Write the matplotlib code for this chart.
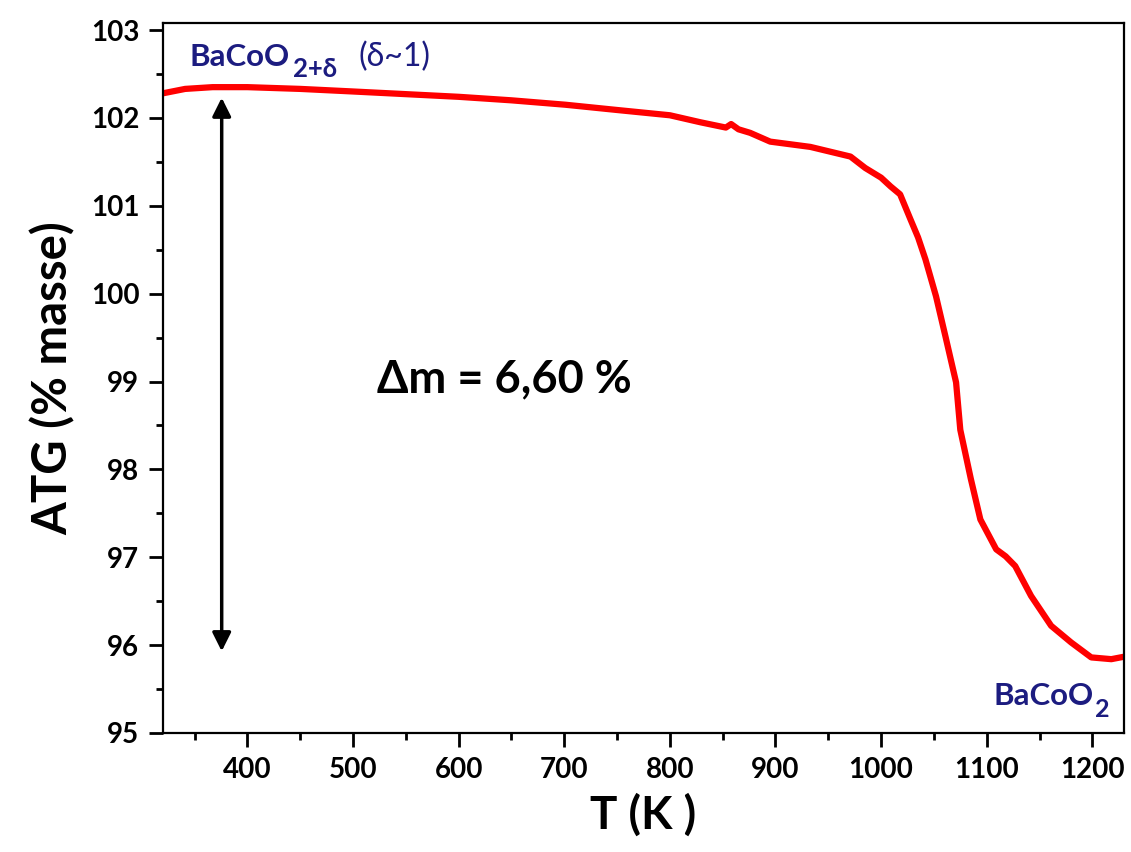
import matplotlib
matplotlib.use("Agg")
import matplotlib.pyplot as plt
from matplotlib.ticker import MultipleLocator

plt.rcParams["font.family"] = ["Lato", "DejaVu Sans"]

# TGA curve
temp_k = [320, 341, 367, 400, 450, 501, 600, 650, 701, 750, 800, 829, 853,
          858, 865, 876, 895, 933, 971, 985, 1000, 1009, 1018, 1028, 1035,
          1042, 1052, 1061, 1066, 1071, 1075, 1085, 1094, 1109, 1118, 1127,
          1142, 1161, 1180, 1199, 1218, 1231]
mass_pct = [102.28, 102.33, 102.35, 102.35, 102.33, 102.30, 102.24, 102.20,
            102.15, 102.09, 102.03, 101.95, 101.89, 101.93, 101.87, 101.83,
            101.73, 101.67, 101.56, 101.43, 101.32, 101.22, 101.13, 100.84,
            100.64, 100.39, 99.97, 99.51, 99.25, 98.99, 98.45, 97.89, 97.43,
            97.09, 97.01, 96.90, 96.56, 96.22, 96.03, 95.86, 95.84, 95.87]

arrow_t = 375.6
arrow_top = 102.23
arrow_bottom = 95.93

navy = "#1c1c80"

fig = plt.figure(figsize=(11.31, 8.52), dpi=100)
ax = fig.add_axes([0.1441, 0.1397, 0.8497, 0.8333])

ax.plot(temp_k, mass_pct, color="#ff0000", lw=4.5)

ax.annotate("", xy=(arrow_t, arrow_bottom), xytext=(arrow_t, arrow_top),
            arrowprops=dict(arrowstyle="<|-|>", color="black", lw=2.5,
                            mutation_scale=28, shrinkA=0, shrinkB=0))

# labels of the two phases (subscripts drawn as separate texts)
ax.text(345, 102.59, "BaCoO", color=navy, fontsize=22.5, fontweight="bold",
        va="baseline")
ax.text(443, 102.46, "2+δ", color=navy, fontsize=18.5, fontweight="bold",
        va="baseline")
ax.text(505, 102.59, "(δ~1)", color=navy, fontsize=23, va="baseline")
ax.text(1201, 95.32, "BaCoO", color=navy, fontsize=22.5, fontweight="bold",
        va="baseline", ha="right")
ax.text(1203, 95.18, "2", color=navy, fontsize=18, fontweight="bold",
        va="baseline")

ax.text(523, 98.875, "Δm = 6,60 %", fontsize=32.5, fontweight="bold",
        va="baseline")

ax.set_xlim(320, 1230)
ax.set_ylim(95, 103.08)
ax.xaxis.set_major_locator(MultipleLocator(100))
ax.xaxis.set_minor_locator(MultipleLocator(50))
ax.yaxis.set_major_locator(MultipleLocator(1))
ax.yaxis.set_minor_locator(MultipleLocator(0.5))
ax.tick_params(which="both", direction="out", width=2, top=False, right=False)
ax.tick_params(which="major", length=10, labelsize=20, pad=7)
ax.tick_params(which="minor", length=5)
for lab in ax.get_xticklabels() + ax.get_yticklabels():
    lab.set_fontweight("bold")
for sp in ax.spines.values():
    sp.set_linewidth(1.6)

ax.set_xlabel("T (K )", fontsize=33, fontweight="bold", labelpad=8)
ax.set_ylabel("ATG (% masse)", fontsize=34, fontweight="bold", labelpad=11)

fig.savefig("out.png", dpi=100)
